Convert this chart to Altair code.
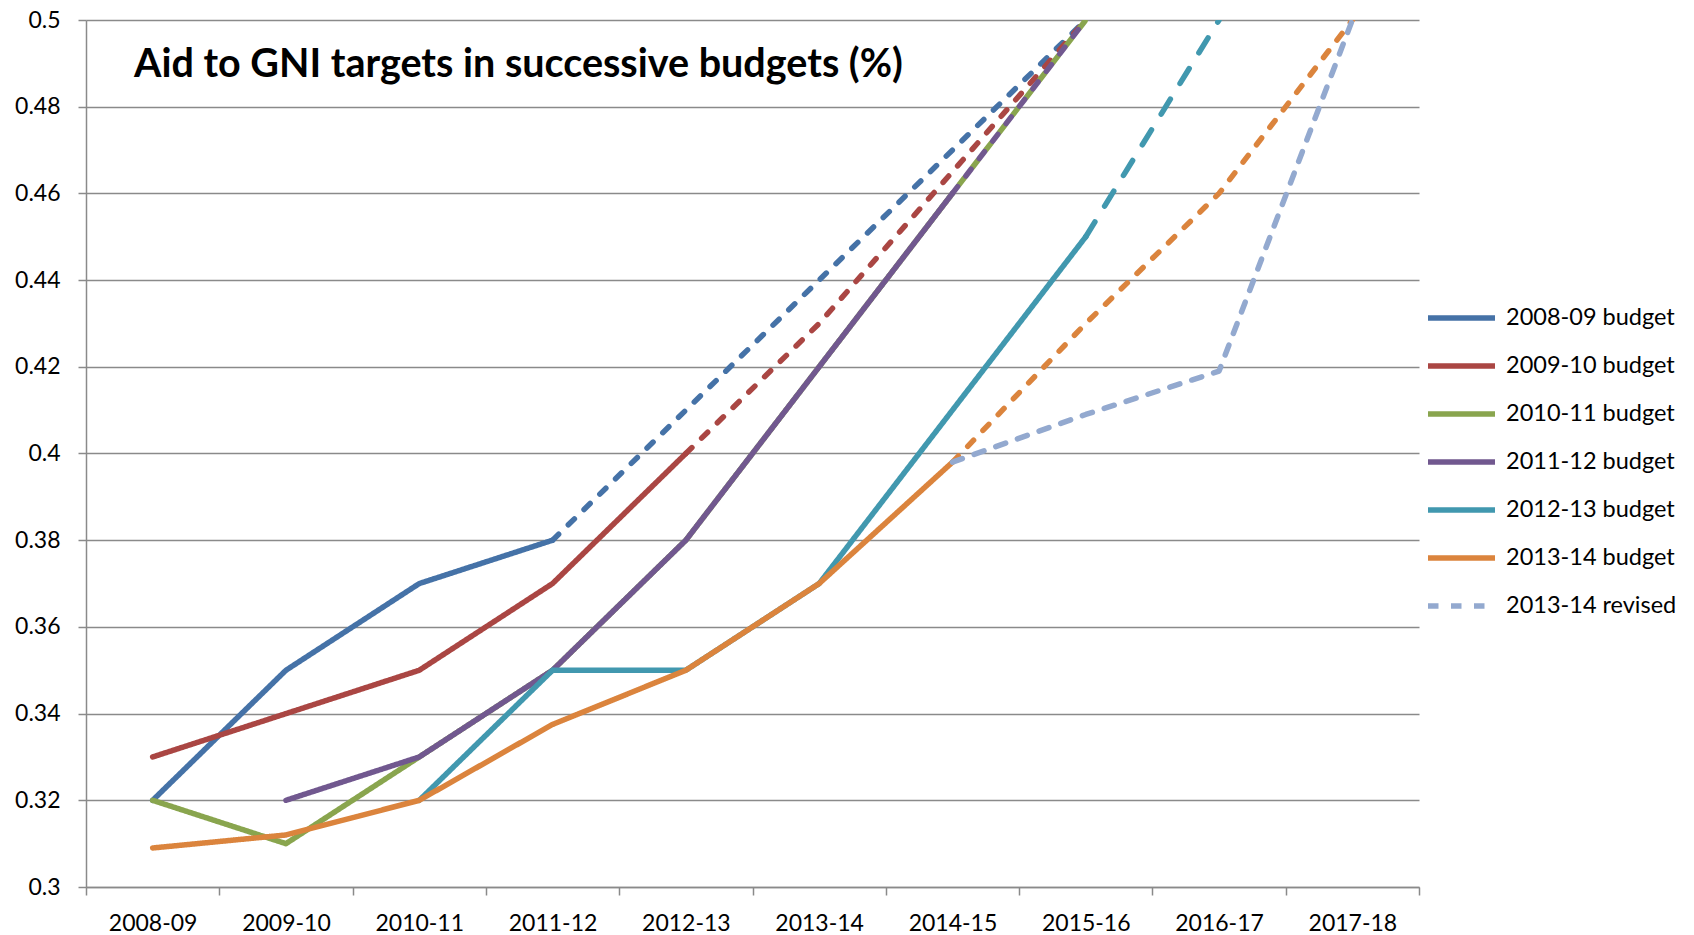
import altair as alt
import pandas as pd

years = ["2008-09", "2009-10", "2010-11", "2011-12", "2012-13",
         "2013-14", "2014-15", "2015-16", "2016-17", "2017-18"]

series_names = ["2008-09 budget", "2009-10 budget", "2010-11 budget",
                "2011-12 budget", "2012-13 budget", "2013-14 budget",
                "2013-14 revised"]
series_colors = ["#4572A7", "#AA4643", "#89A54E", "#71588F",
                 "#4198AF", "#DB843D", "#93A9CF"]

# solid (announced) part and dashed (projected) part of each series
b0809_solid = [0.32, 0.35, 0.37, 0.38, None, None, None, None, None, None]
b0809_dash = [None, None, None, 0.38, 0.41, 0.44, 0.47, 0.50, None, None]
b0910_solid = [0.33, 0.34, 0.35, 0.37, 0.40, None, None, None, None, None]
b0910_dash = [None, None, None, None, 0.40, 0.43, 0.465, 0.50, None, None]
b1011_solid = [0.32, 0.31, 0.33, 0.35, 0.38, 0.42, 0.46, None, None, None]
b1011_dash = [None, None, None, None, None, None, 0.46, 0.50, None, None]
b1112_solid = [None, 0.32, 0.33, 0.35, 0.38, 0.42, 0.46, None, None, None]
b1112_dash = [None, None, None, None, None, None, 0.46, 0.50, None, None]
b1213_solid = [None, None, 0.32, 0.35, 0.35, 0.37, 0.41, 0.45, None, None]
b1213_dash = [None, None, None, None, None, None, None, 0.45, 0.50, None]
b1314_solid = [0.309, 0.312, 0.32, 0.3375, 0.35, 0.37, 0.398, None, None, None]
b1314_dash = [None, None, None, None, None, None, 0.398, 0.43, 0.46, 0.50]
rev1314 = [None, None, None, None, None, None, 0.398, 0.409, 0.419, 0.50]

y_ticks = [0.30, 0.32, 0.34, 0.36, 0.38, 0.40, 0.42, 0.44, 0.46, 0.48, 0.50]

solid_parts = [b0809_solid, b0910_solid, b1011_solid, b1112_solid,
               b1213_solid, b1314_solid, rev1314]
dash_parts = [b0809_dash, b0910_dash, b1011_dash, b1112_dash,
              b1213_dash, b1314_dash, None]
proj_dash = [[8.5, 13.5], [8.5, 13.5], [8.5, 13.5], [8.5, 13.5], [17.5, 18.5],
             [8.5, 13.5], None]
dash_offsets = [0, 0, 11, 0, 0, 0, 0]

color_scale = alt.Scale(domain=series_names, range=series_colors)
dash_scale = alt.Scale(domain=series_names,
                       range=[[1, 0]] * 6 + [[10.5, 12.5]])

legend = alt.Legend(
    title=None, orient="none", legendX=1339, legendY=284,
    symbolType="stroke", symbolSize=4489, symbolStrokeWidth=5.5,
    labelFont="Lato", labelFontSize=23.5, labelColor="#000000",
    labelLimit=400, labelOffset=8, clipHeight=28, rowPadding=20,
    padding=0, offset=0,
)

x_enc = alt.X(
    "year:N", sort=years, bandPosition=0.5,
    scale=alt.Scale(type="band", domain=years, paddingInner=0, paddingOuter=0),
    axis=alt.Axis(title=None, grid=False, tickBand="extent", labelAngle=0,
                  labelPadding=17, tickSize=8),
)
y_enc = alt.Y(
    "value:Q",
    scale=alt.Scale(domain=[0.3, 0.5], nice=False, zero=False),
    axis=alt.Axis(title=None, values=y_ticks, format=".2~f", grid=True,
                  labelPadding=18, tickSize=8),
)


def frame(name, vals):
    rows = [(y, v) for y, v in zip(years, vals) if v is not None]
    return pd.DataFrame({"year": [r[0] for r in rows],
                         "value": [r[1] for r in rows],
                         "series": name})


layers = []
for name, solid, dash, pdash, doff in zip(series_names, solid_parts, dash_parts,
                                          proj_dash, dash_offsets):
    layers.append(
        alt.Chart(frame(name, solid)).mark_line(
            strokeWidth=5.5, strokeCap="round", strokeJoin="round", clip=True
        ).encode(
            x=x_enc, y=y_enc,
            color=alt.Color("series:N", scale=color_scale, legend=legend),
            strokeDash=alt.StrokeDash("series:N", scale=dash_scale, legend=legend),
        )
    )
    if dash is not None:
        layers.append(
            alt.Chart(frame(name, dash)).mark_line(
                strokeWidth=5.5, strokeCap="round", strokeJoin="round", clip=True,
                strokeDashOffset=doff,
            ).encode(
                x=x_enc, y=y_enc,
                color=alt.Color("series:N", scale=color_scale, legend=legend),
                strokeDash=alt.value(pdash),
            )
        )

chart = alt.layer(*layers).properties(
    width=1333, height=867,
    autosize=alt.AutoSizeParams(type="none"),
    padding={"left": 78, "top": 12, "right": 260, "bottom": 48},
    title=alt.TitleParams(
        "Aid to GNI targets in successive budgets (%)",
        anchor="start", frame="group", dx=48, dy=107, offset=0,
        baseline="alphabetic", font="Lato", fontSize=39.5, fontWeight="bold",
        color="#000000",
    ),
).configure_view(stroke=None).configure_axis(
    labelFont="Lato", labelFontSize=23, labelColor="#000000",
    gridColor="#8a8a8a", gridWidth=1.5, domainColor="#8a8a8a", domainWidth=1.5,
    tickColor="#8a8a8a", tickWidth=1.5,
)

chart.save("out.html", embed_options={"renderer": "svg", "actions": False})
